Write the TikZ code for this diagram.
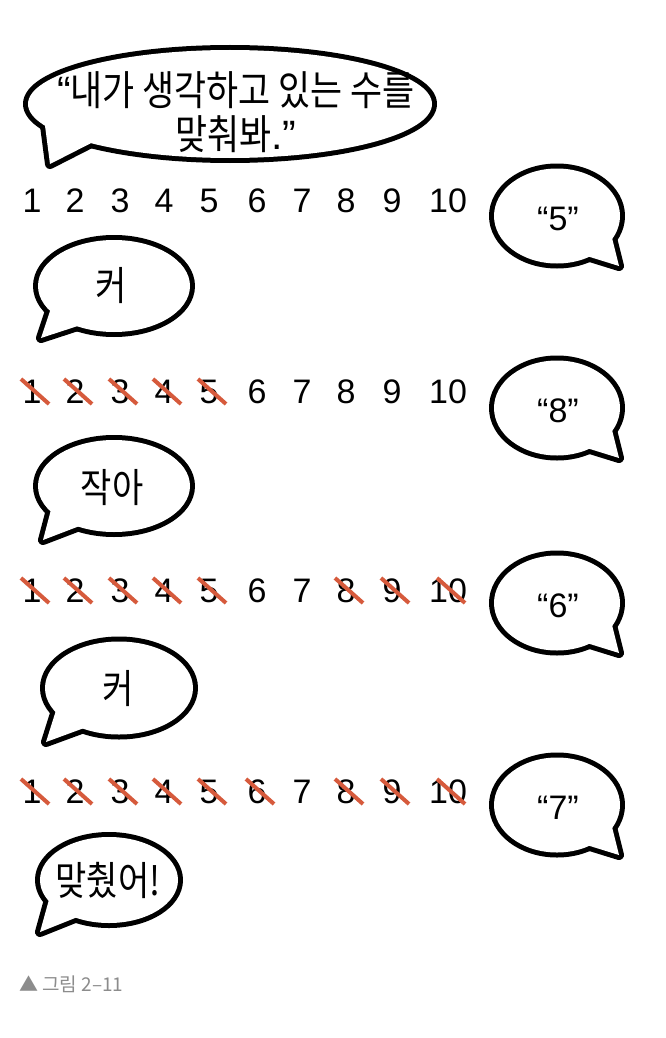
\documentclass[tikz,border=0pt]{standalone}
\usepackage{fontspec}
\setmainfont{Liberation Sans}
\newfontfamily\kr[FakeStretch=0.85]{Noto Sans CJK KR}
\newfontfamily\krcap{Noto Sans CJK KR}
\definecolor{slashred}{HTML}{D65A3C}
\definecolor{capgray}{HTML}{8C8C8C}
\newcommand\spbubble[7]{%
  \draw[line width=10pt, line join=round] (#1,#2) ellipse [x radius=#3, y radius=#4];
  \draw[line width=10pt, line join=round] #5 -- #6 -- #7 -- cycle;
  \fill[white] (#1,#2) ellipse [x radius=#3, y radius=#4];
  \fill[white] #5 -- #6 -- #7 -- cycle;
}
\begin{document}
\begin{tikzpicture}[x=1pt,y=-1pt,
  num/.style={anchor=base, inner sep=0pt, font=\fontsize{34}{34}\selectfont},
  quote/.style={inner sep=0pt, font=\fontsize{34}{34}\selectfont},
  krtext/.style={inner sep=0pt, align=center, font=\kr\fontsize{40}{44}\selectfont},
  redslash/.style={draw=slashred, line width=4pt}]
\useasboundingbox (0,0) rectangle (666,1038);
\fill[white] (0,0) rectangle (666,1038);

% top bubble
\spbubble{230}{104}{202}{54}{(44,118)}{(50,164)}{(103,137)}
\node[krtext, font=\kr\fontsize{41}{44}\selectfont] (ask) at (236,112) {{\rmfamily“}내가 생각하고 있는 수를\\맞춰봐{\rmfamily.”}};

% right bubbles
\foreach \cy/\t/\nm in {216/5/g1, 408/8/g2, 603/6/g3, 805/7/g4}{
  \spbubble{557}{\cy}{63}{47.5}{(610,\cy+14)}{(619,\cy+50)}{(577,\cy+37)}
  \node[quote] (\nm) at (558,\cy+3) {“\t”};
}

% left bubbles
\spbubble{114}{286}{76}{46}{(53,302)}{(41,338)}{(90,322)}
\node[krtext] (a1) at (111,286) {커};
\spbubble{114}{486}{76}{46}{(53,502)}{(43,540)}{(90,522)}
\node[krtext] (a2) at (112,488) {작아};
\spbubble{119}{688}{74}{46.5}{(58,704)}{(46,742)}{(95,724)}
\node[krtext] (a3) at (118,689) {커};
\spbubble{109}{880}{69}{43}{(50,896)}{(40,932)}{(85,914)}
\node[krtext] (a4) at (108,880) {맞췄어!};

% number rows
\foreach \r/\by in {1/212, 2/403, 3/602, 4/803}{
  \foreach \n/\x in {1/32, 2/75, 3/120, 4/164, 5/209, 6/257, 7/302, 8/346, 9/392, 10/448}{
    \node[num] (r\r n\n) at (\x,\by) {\n};
  }
}
\foreach \r/\lst in {2/{1,2,3,4,5}, 3/{1,2,3,4,5,8,9,10}, 4/{1,2,3,4,5,6,8,9,10}}{
  \foreach \n in \lst {
    \draw[redslash] ([shift={(-11,-24)}]r\r n\n.base) -- ([shift={(17,1)}]r\r n\n.base);
  }
}

% caption
\node[anchor=base west, inner sep=0pt, text=capgray, font=\krcap\fontsize{19}{19}\selectfont] (cap) at (19,991) {▲ 그림 2–11};
\end{tikzpicture}
\end{document}
